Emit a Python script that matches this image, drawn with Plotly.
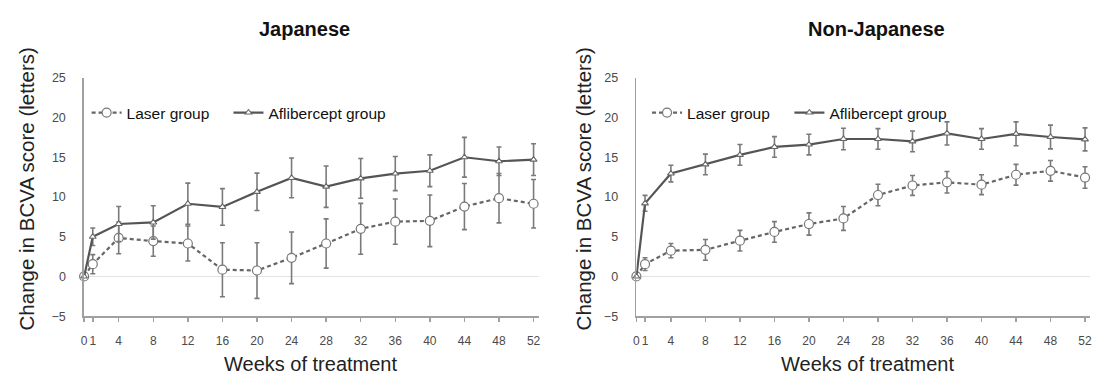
import plotly.graph_objects as go

weeks = [0, 1, 4, 8, 12, 16, 20, 24, 28, 32, 36, 40, 44, 48, 52]
tick_labels = [str(w) for w in weeks]

# Japanese
jp_laser = [0, 1.55, 4.85, 4.45, 4.15, 0.85, 0.75, 2.35, 4.15, 6.0, 6.9, 7.0, 8.8, 9.85, 9.15]
jp_laser_err = [0, 1.2, 2.0, 1.9, 2.2, 3.4, 3.5, 3.25, 3.1, 3.2, 2.85, 3.25, 2.9, 3.1, 3.05]
jp_afli = [0, 5.0, 6.6, 6.8, 9.15, 8.75, 10.65, 12.4, 11.3, 12.35, 12.95, 13.3, 15.0, 14.5, 14.7]
jp_afli_err = [0, 1.1, 2.2, 2.1, 2.6, 2.3, 2.35, 2.5, 2.6, 2.5, 2.15, 2.0, 2.5, 1.8, 2.0]

# Non-Japanese
nj_laser = [0, 1.55, 3.25, 3.35, 4.5, 5.6, 6.6, 7.3, 10.25, 11.45, 11.85, 11.55, 12.8, 13.3, 12.45]
nj_laser_err = [0, 0.8, 0.9, 1.3, 1.3, 1.3, 1.4, 1.5, 1.35, 1.25, 1.35, 1.25, 1.3, 1.3, 1.35]
nj_afli = [0, 9.2, 12.95, 14.1, 15.3, 16.3, 16.6, 17.3, 17.3, 17.0, 18.0, 17.3, 17.95, 17.55, 17.25]
nj_afli_err = [0, 1.0, 1.05, 1.3, 1.3, 1.3, 1.3, 1.35, 1.3, 1.3, 1.45, 1.3, 1.5, 1.5, 1.45]

panel_titles = ["Japanese", "Non-Japanese"]
series_names = ["Laser group", "Aflibercept group"]
y_title = "Change in BCVA score (letters)"
x_title = "Weeks of treatment"

W, H = 1096, 381
FONT = "Liberation Sans, Arial, sans-serif"
err_col = "#7a7a7a"


def px_x(p):
    return p / W


def px_y(p):
    return 1 - p / H


fig = go.Figure()

panels = [
    (jp_laser, jp_laser_err, jp_afli, jp_afli_err, "x", "y", "legend", "legend2"),
    (nj_laser, nj_laser_err, nj_afli, nj_afli_err, "x2", "y2", "legend3", "legend4"),
]
for lz, lze, af, afe, xa, ya, lg1, lg2 in panels:
    fig.add_trace(go.Scatter(
        x=weeks, y=lz, name=series_names[0], xaxis=xa, yaxis=ya, legend=lg1,
        mode="lines+markers", cliponaxis=False,
        line=dict(color="#666666", width=2.2, dash="4px,3px"),
        marker=dict(symbol="circle", size=9, color="white",
                    line=dict(color="#777777", width=1.2)),
        error_y=dict(type="data", array=lze, visible=True, color=err_col,
                     thickness=1.6, width=2.5),
    ))
    fig.add_trace(go.Scatter(
        x=weeks, y=af, name=series_names[1], xaxis=xa, yaxis=ya, legend=lg2,
        mode="lines+markers", cliponaxis=False,
        line=dict(color="#555555", width=2.2),
        marker=dict(symbol="triangle-up", size=6, color="white",
                    line=dict(color="#666666", width=1.1)),
        error_y=dict(type="data", array=afe, visible=True, color=err_col,
                     thickness=1.6, width=2.5),
    ))

XMAX = 52.6
ppw_l = (533 - 81.5) / 52
ppw_r = (1087 - 636.3) / 52
ydom = [px_y(321), px_y(73.5)]
xdoms = [[px_x(81.5), px_x(81.5 + XMAX * ppw_l)],
         [px_x(636.3), px_x(min(1096, 636.3 + XMAX * ppw_r))]]

axis_common = dict(
    showgrid=False, showline=True, linecolor="#a0a0a0", linewidth=1.8,
)
for i, (xn, yn) in enumerate([("xaxis", "yaxis"), ("xaxis2", "yaxis2")]):
    anchor_x = "y" if i == 0 else "y2"
    anchor_y = "x" if i == 0 else "x2"
    fig.layout[xn] = dict(
        domain=xdoms[i], anchor=anchor_x, range=[0, XMAX],
        tickmode="array", tickvals=weeks, ticktext=tick_labels, tickangle=0,
        ticks="outside", ticklen=4, tickcolor="#a0a0a0", tickwidth=1.5,
        ticklabelstandoff=9, ticklabeloverflow="allow",
        tickfont=dict(family=FONT, size=12, color="#4a4a4a"),
        zeroline=False, **axis_common,
    )
    fig.layout[yn] = dict(
        domain=ydom, anchor=anchor_y, range=[-5, 25],
        tickmode="array", tickvals=[-5, 0, 5, 10, 15, 20, 25],
        ticks="", ticklabelstandoff=14,
        tickfont=dict(family=FONT, size=12.5, color="#4a4a4a"),
        zeroline=True, zerolinecolor="#e2e2e2", zerolinewidth=1.5,
        **axis_common,
    )

annotations = []
title_x = [302.5, 878]
xtitle_x = [309, 868]
ytitle_x = [23.5, 583]
for i in range(2):
    annotations.append(dict(
        text="<b>" + panel_titles[i] + "</b>", x=px_x(title_x[i]), y=px_y(23),
        xref="paper", yref="paper", showarrow=False,
        xanchor="center", yanchor="middle",
        font=dict(family=FONT, size=20, color="#111111"),
    ))
    annotations.append(dict(
        text=x_title, x=px_x(xtitle_x[i]), y=px_y(371),
        xref="paper", yref="paper", showarrow=False,
        xanchor="center", yanchor="middle",
        font=dict(family=FONT, size=20, color="#222222"),
    ))
    annotations.append(dict(
        text=y_title, x=px_x(ytitle_x[i]), y=px_y(189),
        xref="paper", yref="paper", showarrow=False, textangle=-90,
        xanchor="center", yanchor="middle",
        font=dict(family=FONT, size=20.5, color="#222222"),
    ))

legend_common = dict(
    orientation="h", bgcolor="rgba(0,0,0,0)", borderwidth=0,
    font=dict(family=FONT, size=15.5, color="#111111"),
    xanchor="left", yanchor="middle", itemsizing="trace",
)
legend_text_x = [127, 269.5, 690, 833]
legend_pos = {}
for name, tx in zip(["legend", "legend2", "legend3", "legend4"], legend_text_x):
    legend_pos[name] = dict(x=px_x(tx - 43), y=px_y(110), **legend_common)

fig.update_layout(
    width=W, height=H,
    margin=dict(l=0, r=0, t=0, b=0),
    paper_bgcolor="white", plot_bgcolor="white",
    annotations=annotations,
    showlegend=True,
    hovermode=False,
    **legend_pos,
)

# remove the browser's default 8px page margin so the figure fills the window
fig.write_html(
    "out.html",
    config={"displayModeBar": False, "staticPlot": True},
    post_script="document.body.style.margin='0';document.body.style.overflow='hidden';",
)
